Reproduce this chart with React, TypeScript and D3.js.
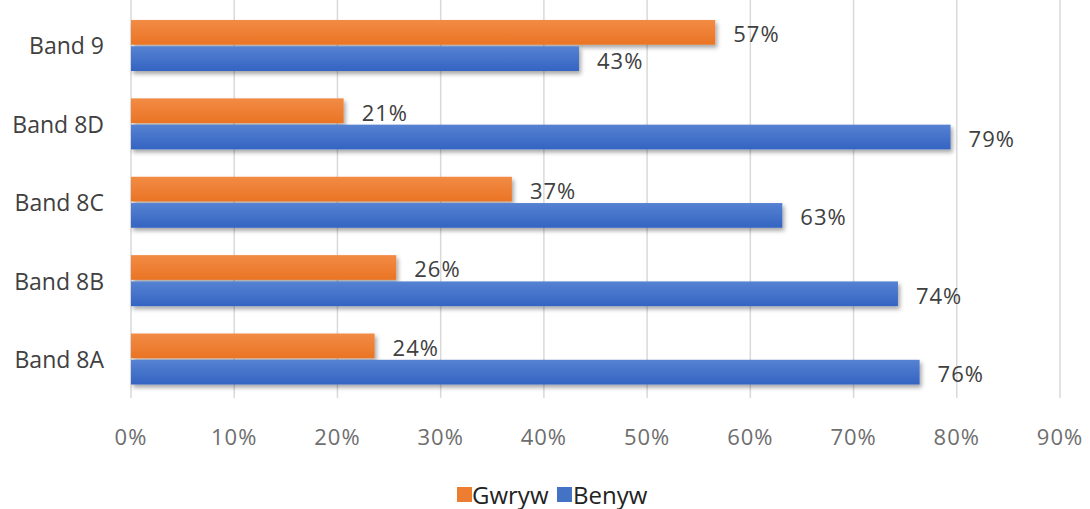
import React from "react";
import * as d3 from "d3";

const categories = ["Band 9", "Band 8D", "Band 8C", "Band 8B", "Band 8A"];
const seriesNames = ["Gwryw", "Benyw"];
const gwrywValues = [56.6, 20.6, 36.9, 25.7, 23.6];
const benywValues = [43.4, 79.4, 63.1, 74.3, 76.4];
const xTicks = [0, 10, 20, 30, 40, 50, 60, 70, 80, 90];
const colors = ["#ED7D31", "#4472C4"];

export default function App() {
  const W = 1090, H = 509;
  const x = d3.scaleLinear().domain([0, 90]).range([131, 1060]);
  const y = d3.scaleBand<string>().domain(categories).range([6.3, 398.2]).paddingInner(0).paddingOuter(0);
  const sub = d3.scaleBand<string>().domain(seriesNames).range([0, 51]).paddingInner(0.06);
  const font = "'Open Sans', sans-serif";
  const series = [gwrywValues, benywValues];
  const bh = y.bandwidth();
  const offset = (bh - 51) / 2;

  return (
    <svg width={W} height={H} style={{ position: "absolute", left: 0, top: 0, background: "#fff" }} fontFamily={font}>
      <defs>
        <linearGradient id="g0" x1="0" y1="0" x2="0" y2="1">
          <stop offset="0" stopColor="#F28B45" />
          <stop offset="1" stopColor="#EA7424" />
        </linearGradient>
        <linearGradient id="g1" x1="0" y1="0" x2="0" y2="1">
          <stop offset="0" stopColor="#5682D2" />
          <stop offset="1" stopColor="#3464C2" />
        </linearGradient>
        <filter id="sh" x="-5%" y="-30%" width="110%" height="180%">
          <feDropShadow dx="2" dy="3" stdDeviation="2" floodColor="#000" floodOpacity="0.35" />
        </filter>
      </defs>
      {xTicks.map((t) => (
        <line key={t} x1={x(t)} x2={x(t)} y1={0} y2={398} stroke="#D9D9D9" strokeWidth={1.5} />
      ))}
      {categories.map((c, i) => (
        <g key={c}>
          <text x={104} y={(y(c) as number) + bh / 2} textAnchor="end" dominantBaseline="central" fontSize={23} fill="#404040">{c}</text>
          {seriesNames.map((s, j) => {
            const v = series[j][i];
            const by = (y(c) as number) + offset + (sub(s) as number);
            const h = sub.bandwidth();
            return (
              <g key={s}>
                <rect x={x(0)} y={by} width={x(v) - x(0)} height={h} fill={`url(#g${j})`} filter="url(#sh)" />
                <text x={x(v) + 18} y={by + h / 2 + 1} dominantBaseline="central" fontSize={22} letterSpacing={1} fill="#404040">{`${Math.round(v)}%`}</text>
              </g>
            );
          })}
        </g>
      ))}
      {xTicks.map((t) => (
        <text key={t} x={x(t)} y={436} textAnchor="middle" dominantBaseline="central" fontSize={22} letterSpacing={1} fill="#6E6E6E">{`${t}%`}</text>
      ))}
      <g>
        <rect x={457} y={487} width={15} height={15} fill={colors[0]} />
        <text x={472} y={494} dominantBaseline="central" fontSize={24} fill="#222">{seriesNames[0]}</text>
        <rect x={557} y={487} width={15} height={15} fill={colors[1]} />
        <text x={573} y={494} dominantBaseline="central" fontSize={24} fill="#222">{seriesNames[1]}</text>
      </g>
    </svg>
  );
}
